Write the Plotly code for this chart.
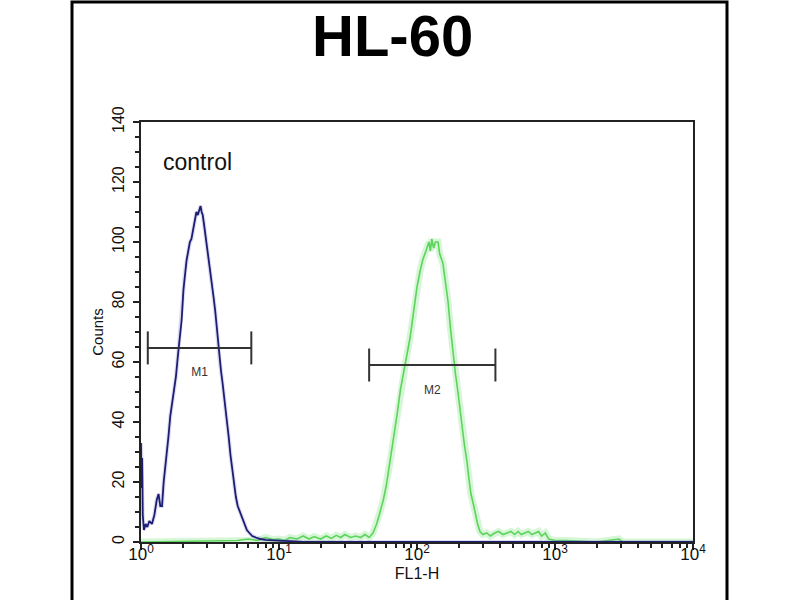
import plotly.graph_objects as go

# ---- data ----
control_x = [1.00, 1.01, 1.02, 1.03, 1.05, 1.08, 1.11, 1.15, 1.20, 1.25, 1.30, 1.34, 1.38, 1.42,
             1.46, 1.50, 1.54, 1.58, 1.63, 1.68, 1.73, 1.79, 1.85, 1.92, 1.97, 2.03, 2.08, 2.14,
             2.20, 2.26, 2.32, 2.38, 2.45, 2.52, 2.58, 2.64, 2.70, 2.75, 2.80, 2.86, 2.92, 2.98,
             3.05, 3.12, 3.20, 3.28, 3.37, 3.45, 3.53, 3.61, 3.70, 3.80, 3.90, 4.00, 4.10, 4.20,
             4.32, 4.45, 4.58, 4.72, 4.87, 5.02, 5.20, 5.40, 5.60, 5.85, 6.10, 6.40, 6.80, 7.30,
             8.00, 9.00, 10.5, 12.0, 15.0, 10000]
control_y = [33, 18, 28, 9, 4, 6, 5, 7, 6, 9, 14, 16, 12, 12,
             20, 25, 28, 35, 42, 46, 50, 55, 62, 70, 74, 84, 90, 94,
             97, 100, 101, 104, 108, 110, 109, 111, 112, 110, 109, 106, 103, 99,
             96, 93, 90, 86, 81, 77, 72, 66, 61, 57, 53, 49, 45, 41,
             35, 29, 24, 19, 15, 12, 10, 8, 6, 4, 3, 2, 1.5, 1,
             0.7, 0.5, 0.4, 0.3, 0, 0]

sample_x = [1.0, 5, 6, 7, 8, 9, 10, 11, 12, 13.5, 15, 16.5, 18, 20, 22, 24, 26, 28, 30, 33, 36, 39,
            42, 45, 48, 51, 54, 57, 60, 64, 68, 72, 76, 80, 85, 89, 94, 100, 105, 110, 116, 122,
            125, 128, 132, 136, 142, 146, 154, 160, 168, 175, 182, 190, 198, 205, 213, 221, 230,
            238, 246, 255, 265, 275, 286, 300, 320, 340, 365, 390, 420, 450, 480, 510, 540, 570,
            600, 640, 680, 720, 760, 800, 850, 900, 1000, 1200, 1500, 2000, 2900, 3100, 10000]
sample_y = [0, 0.5, 1, 0.5, 1.5, 0.8, 1, 0.5, 1.5, 1, 2, 1, 1.8, 1, 2, 1.2, 2.2, 1.5, 2.5, 1.5, 2, 1.5,
            2.5, 1.5, 3, 6, 10, 14, 19, 27, 35, 43, 51, 56, 63, 68, 76, 85, 90, 94, 97, 100,
            97, 101, 98, 100, 100, 96, 93, 88, 80, 71, 63, 56, 50, 45, 38, 32, 27,
            21, 16, 13, 9, 6, 3.5, 2.5, 3, 2, 3, 3.5, 2.5, 3, 3.5, 2.5, 3.5, 2.5,
            3, 3.5, 2.5, 3, 3.5, 2, 3, 1, 0.5, 0.5, 0.3, 0, 1, 0, 0]

gate_names = ["M1", "M2"]
gate_lo = [1.12, 45]
gate_hi = [6.3, 370]
gate_y = [64.7, 59]

x_tickvals = [1, 10, 100, 1000, 10000]
x_ticktext = ["10<sup>0</sup>", "10<sup>1</sup>", "10<sup>2</sup>", "10<sup>3</sup>", "10<sup>4</sup>"]

FONT = "Liberation Sans, Arial, sans-serif"
CAP = 5.5

fig = go.Figure()

# green sample histogram with glow
fig.add_trace(go.Scatter(x=sample_x, y=sample_y, mode="lines",
                         line=dict(color="rgba(140,230,140,0.35)", width=7),
                         hoverinfo="skip", showlegend=False))
fig.add_trace(go.Scatter(x=sample_x, y=sample_y, mode="lines",
                         line=dict(color="#5cd45c", width=1.6), showlegend=False))
# blue control histogram
fig.add_trace(go.Scatter(x=control_x, y=control_y, mode="lines",
                         line=dict(color="rgba(120,120,200,0.25)", width=4),
                         hoverinfo="skip", showlegend=False))
fig.add_trace(go.Scatter(x=control_x, y=control_y, mode="lines",
                         line=dict(color="#1d1d74", width=1.8), showlegend=False))

# gates M1 / M2
for name, lo, hi, gy in zip(gate_names, gate_lo, gate_hi, gate_y):
    fig.add_trace(go.Scatter(x=[lo, hi], y=[gy, gy], mode="lines",
                             line=dict(color="#333333", width=2), showlegend=False))
    for xv in (lo, hi):
        fig.add_trace(go.Scatter(x=[xv, xv], y=[gy - CAP, gy + CAP], mode="lines",
                                 line=dict(color="#333333", width=2), showlegend=False))
    fig.add_trace(go.Scatter(x=[(lo * hi) ** 0.5], y=[gy - 8.5], mode="text", text=[name],
                             textfont=dict(family=FONT, size=12, color="#333333"),
                             showlegend=False))

fig.update_xaxes(type="log", range=[0, 4], tickmode="array", tickvals=x_tickvals,
                 ticktext=x_ticktext, ticks="outside", ticklen=6, tickwidth=1.5,
                 tickcolor="#222", showline=True, linecolor="#222", linewidth=2,
                 mirror=True, showgrid=False, zeroline=False, ticklabelstandoff=-10,
                 tickfont=dict(family=FONT, size=17, color="#111"),
                 minor=dict(ticks="outside", ticklen=4, tickwidth=1.5, tickcolor="#222",
                            dtick="D1", showgrid=False),
                 title=dict(text="FL1-H", font=dict(family=FONT, size=16, color="#111"),
                            standoff=4))
fig.update_yaxes(range=[0, 140], dtick=20, tickangle=-90, ticks="outside", ticklen=6,
                 tickwidth=1.5, tickcolor="#222", showline=True, linecolor="#222",
                 linewidth=2, mirror=True, showgrid=False, zeroline=False,
                 ticklabelstandoff=3,
                 tickfont=dict(family=FONT, size=16, color="#111"),
                 minor=dict(ticks="outside", ticklen=4, tickwidth=1.5, tickcolor="#222",
                            dtick=5, showgrid=False),
                 title=dict(text="Counts", font=dict(family=FONT, size=15, color="#111"),
                            standoff=2))

fig.add_annotation(text="<b>HL-60</b>", xref="paper", yref="paper", x=0.4565, y=1.207,
                   showarrow=False, font=dict(family=FONT, size=58, color="#000"),
                   xanchor="center", yanchor="middle")
fig.add_annotation(text="control", xref="paper", yref="paper", x=0.103, y=0.905,
                   showarrow=False, font=dict(family=FONT, size=23, color="#111"),
                   xanchor="center", yanchor="middle")

# outer frame of the figure
fig.add_shape(type="rect", xref="paper", yref="paper", x0=-0.125, x1=1.0616,
              y0=-0.2, y1=1.286, line=dict(color="#000", width=3), fillcolor="rgba(0,0,0,0)")

fig.update_layout(width=800, height=600, paper_bgcolor="white", plot_bgcolor="white",
                  margin=dict(l=141, r=107, t=122, b=58), showlegend=False,
                  font=dict(family=FONT))

fig.write_html("out.html", config={"displayModeBar": False},
               post_script="document.body.style.margin='0';document.body.style.padding='0';")
